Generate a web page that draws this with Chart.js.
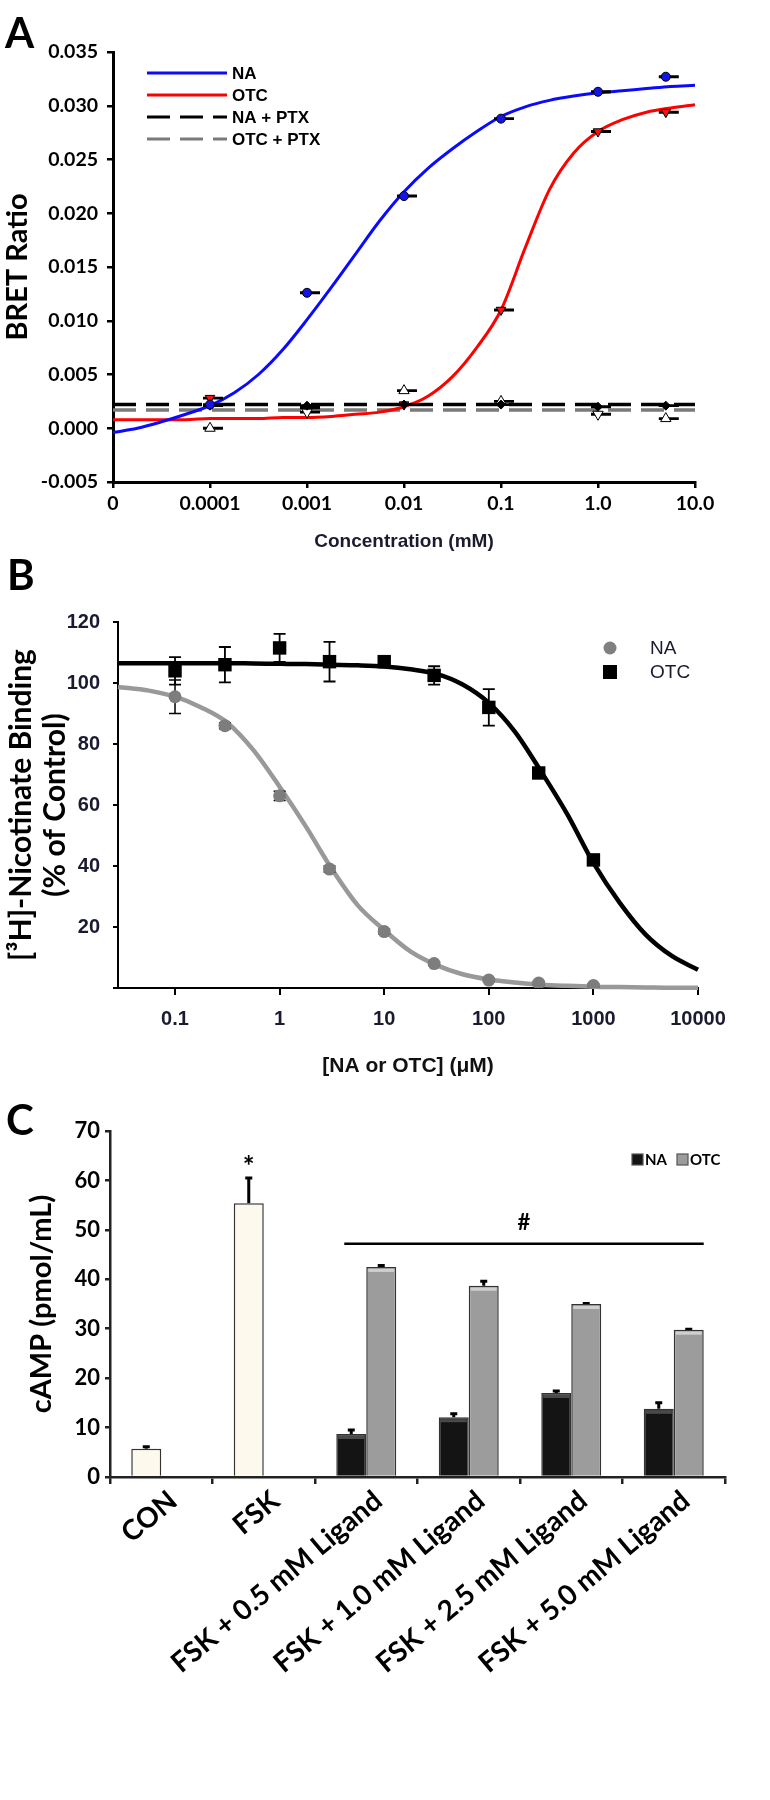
<!DOCTYPE html>
<html>
<head>
<meta charset="utf-8">
<script src="https://cdn.jsdelivr.net/npm/chart.js@4.4.0/dist/chart.umd.min.js"></script>
<style>
  body { margin: 0; background: #fff; }
  #page { position: relative; width: 770px; height: 1800px; }
  .panel { position: absolute; left: 0; }
  .tag { position: absolute; font: bold 42px Lato, sans-serif; line-height: 42px; color: #000; }
</style>
</head>
<body>
<div id="page">
  <canvas id="chartA" class="panel" width="770" height="560" style="top:0"></canvas>
  <canvas id="chartB" class="panel" width="770" height="530" style="top:560px"></canvas>
  <canvas id="chartC" class="panel" width="770" height="710" style="top:1090px"></canvas>
  <div class="tag" style="left:5px;top:11px">A</div>
  <div class="tag" style="left:7px;top:553px">B</div>
  <div class="tag" style="left:6px;top:1098px">C</div>
</div>
<script>
Chart.defaults.font.family = 'Lato, sans-serif';
Chart.defaults.color = '#000';

// ---- panel A : BRET ratio ----
const xTickValsA = [1e-5, 1e-4, 1e-3, 1e-2, 0.1, 1, 10];
const xTickLabelsA = ['0', '0.0001', '0.001', '0.01', '0.1', '1.0', '10.0'];
const concA = [0.0001, 0.001, 0.01, 0.1, 1.0, 5.0];
const naBret = [0.0022, 0.0126, 0.0216, 0.0288, 0.0313, 0.0327];
const otcBret = [0.0028, 0.0019, 0.0022, 0.0110, 0.0276, 0.0294];
const naPtxBret = [0.0021, 0.0021, 0.0022, 0.0022, 0.0020, 0.0021];
const otcPtxBret = [0.0000, 0.0015, 0.0035, 0.0025, 0.0013, 0.0009];
const bretErr = [0.00004, 0.00004, 0.00004, 0.00004, 0.00004, 0.00004];
// fitted curves
const curveConcA = [1e-5, 1.78e-5, 3.16e-5, 5.62e-5, 1e-4, 1.78e-4, 3.16e-4, 5.62e-4, 1e-3, 1.78e-3, 3.16e-3, 5.62e-3,
  1e-2, 1.78e-2, 3.16e-2, 5.62e-2, 0.1, 0.178, 0.316, 0.562, 1, 1.78, 3.16, 5.62, 10];
const naFitA = [-0.0004, 0.0000, 0.0006, 0.0013, 0.0021, 0.0033, 0.0050, 0.0073, 0.0101, 0.0131, 0.0162, 0.0193,
  0.0220, 0.0242, 0.0260, 0.0276, 0.0290, 0.0299, 0.0305, 0.0309, 0.0312, 0.0314, 0.0316, 0.0318, 0.0319];
const otcFitA = [0.0008, 0.0008, 0.0008, 0.0008, 0.0009, 0.0009, 0.0009, 0.0010, 0.0010, 0.0011, 0.0013, 0.0015,
  0.0020, 0.0030, 0.0048, 0.0075, 0.0110, 0.0168, 0.0222, 0.0256, 0.0276, 0.0287, 0.0294, 0.0298, 0.0301];
const ptxConcA = [1e-5, 10];
const naPtxFit = [0.0022, 0.0022];
const otcPtxFit = [0.0017, 0.0017];

// ---- panel B : [3H]-nicotinate binding ----
const xTickValsB = [0.1, 1, 10, 100, 1000, 10000];
const xTickLabelsB = ['0.1', '1', '10', '100', '1000', '10000'];
const concB = [0.1, 0.3, 1, 3, 10, 30, 100, 300, 1000];
const naBind = [95.5, 86, 63, 39, 18.5, 8, 2.6, 1.6, 0.8];
const naBindErr = [5.5, 1, 1.5, 1, 0.8, 0.6, 0.5, 0.5, 0.5];
const otcBind = [104, 106, 111.5, 107, 107, 102.5, 92, 70.5, 42];
const otcBindErr = [4.5, 5.8, 4.6, 6.5, 1.5, 3, 6, 1.5, 1.5];
const curveConcB = [0.0285, 0.0562, 0.1, 0.178, 0.316, 0.562, 1, 1.78, 3.16, 5.62, 10, 17.8, 31.6, 56.2,
  100, 178, 316, 562, 1000, 1780, 3160, 5620, 10000];
const naFitB = [98.7, 97.5, 95.5, 92, 87, 78, 66, 53, 39, 27, 19, 12, 7.5, 4.5,
  2.8, 1.8, 1.1, 0.7, 0.4, 0.3, 0.2, 0.1, 0.1];
const otcFitB = [106.5, 106.5, 106.5, 106.5, 106.5, 106.4, 106.3, 106.2, 106, 105.8, 105.4, 104.5, 103, 99.5,
  93.5, 84, 71, 57, 41, 28, 17.5, 10.5, 6];

// ---- panel C : cAMP ----
const groupsC = ['CON', 'FSK', 'FSK + 0.5 mM Ligand', 'FSK + 1.0 mM Ligand', 'FSK + 2.5 mM Ligand', 'FSK + 5.0 mM Ligand'];
const controlCamp = [5.7, 55.4, null, null, null, null];
const controlCampErr = [0.4, 5.1, null, null, null, null];
const naCamp = [null, null, 8.7, 12.1, 17.0, 13.8];
const naCampErr = [null, null, 0.8, 0.7, 0.4, 1.2];
const otcCamp = [null, null, 42.5, 38.7, 35.0, 29.8];
const otcCampErr = [null, null, 0.3, 0.9, 0.1, 0.1];
const sigLineValue = 47.2, hashValue = 51.4, starValue = 63.8;

const xy = (xs, ys) => xs.map((x, i) => ({ x: x, y: ys[i] }));

// vertical error bars, drawn under each dataset
const errorBars = {
  id: 'errorBars',
  beforeDatasetDraw(chart, args) {
    const ds = chart.data.datasets[args.index];
    if (!ds.errors) return;
    const yScale = chart.scales[args.meta.yAxisID];
    const ctx = chart.ctx;
    ctx.save();
    ctx.strokeStyle = '#000';
    ctx.lineWidth = ds.errWidth || 1.5;
    args.meta.data.forEach((el, i) => {
      const raw = ds.data[i];
      const v = raw !== null && typeof raw === 'object' ? raw.y : raw;
      const e = ds.errors[i];
      if (v == null || e == null) return;
      const yTop = yScale.getPixelForValue(v + e);
      const yBot = ds.errUpOnly ? el.y : yScale.getPixelForValue(v - e);
      const cx = el.x + (ds.errShift || 0);
      const h = ds.errCap / 2;
      ctx.beginPath();
      ctx.moveTo(el.x, yTop); ctx.lineTo(el.x, yBot);
      ctx.moveTo(cx - h, yTop); ctx.lineTo(cx + h, yTop);
      if (!ds.errUpOnly) { ctx.moveTo(cx - h, yBot); ctx.lineTo(cx + h, yBot); }
      ctx.stroke();
    });
    ctx.restore();
  }
};

const legendA = {
  id: 'legendA',
  afterDraw(chart) {
    const ctx = chart.ctx;
    chart.data.datasets.filter(d => d.inLegend).forEach((d, i) => {
      const y = 73 + i * 22;
      ctx.save();
      ctx.strokeStyle = d.borderColor;
      ctx.lineWidth = 3;
      ctx.setLineDash(d.borderDash || []);
      ctx.beginPath(); ctx.moveTo(147, y); ctx.lineTo(227, y); ctx.stroke();
      ctx.setLineDash([]);
      ctx.fillStyle = '#000';
      ctx.font = 'bold 17px "Liberation Sans", Arial, sans-serif';
      ctx.textBaseline = 'middle';
      ctx.fillText(d.label, 232, y + 1);
      ctx.restore();
    });
  }
};

const pointsA = (label, ys, style, color, radius, rot) => ({
  label: label, data: xy(concA, ys), showLine: false,
  pointStyle: style, pointRadius: radius, pointRotation: rot || 0,
  pointBackgroundColor: color, pointBorderColor: '#000', pointBorderWidth: 1,
  errors: bretErr, errCap: 20, errShift: 3, errWidth: 2
});
const fitA = (label, xs, ys, color, dash, width) => ({
  label: label, inLegend: true, data: xy(xs, ys), borderColor: color, borderWidth: width,
  borderDash: dash, pointRadius: 0, cubicInterpolationMode: 'monotone', fill: false, clip: 6
});

new Chart(document.getElementById('chartA'), {
  type: 'line',
  data: {
    datasets: [
      pointsA('NA', naBret, 'circle', '#1414e6', 4.5),
      pointsA('NA + PTX', naPtxBret, 'rectRot', '#000', 4.5),
      pointsA('OTC + PTX', otcPtxBret, 'triangle', '#fff', 6, [0, 180, 0, 0, 180, 0]),
      pointsA('OTC', otcBret, 'triangle', '#ff1010', 5.5, 180),
      fitA('NA', curveConcA, naFitA, '#0a0aff', [], 3),
      fitA('OTC', curveConcA, otcFitA, '#ff0000', [], 3),
      fitA('NA + PTX', ptxConcA, naPtxFit, '#000', [23, 10], 3.5),
      fitA('OTC + PTX', ptxConcA, otcPtxFit, '#7a7a7a', [23, 10], 3.5)
    ]
  },
  options: {
    responsive: false,
    animation: false,
    layout: { padding: { top: 52, right: 75, left: 0, bottom: 0 } },
    plugins: { legend: { display: false }, tooltip: { enabled: false } },
    scales: {
      x: {
        type: 'logarithmic', min: 1e-5, max: 10,
        afterBuildTicks: s => { s.ticks = xTickValsA.map(v => ({ value: v })); },
        afterFit: s => { s.height = 78; },
        ticks: { callback: (v, i) => xTickLabelsA[i], font: { size: 19.5, weight: 'bold' }, color: '#000', padding: 4, maxRotation: 0, autoSkip: false },
        grid: { drawOnChartArea: false, tickLength: 6, color: '#000', lineWidth: 2.5 },
        border: { color: '#000', width: 3 },
        title: { display: true, text: 'Concentration (mM)', color: '#1b1b2f', padding: { top: 0, bottom: 7 },
          font: { family: '"Liberation Sans", Arial, sans-serif', size: 19, weight: 'bold' } }
      },
      y: {
        min: -0.005, max: 0.035,
        afterFit: s => { s.width = 113; },
        ticks: { stepSize: 0.005, callback: v => (Math.abs(v) < 1e-9 ? 0 : v).toFixed(3), font: { size: 19.5, weight: 'bold' }, color: '#000', padding: 9 },
        grid: { drawOnChartArea: false, tickLength: 6, color: '#000', lineWidth: 2.5 },
        border: { color: '#000', width: 3 },
        title: { display: true, text: 'BRET Ratio', color: '#000', padding: { top: 0, bottom: 0 }, font: { size: 29, weight: 'bold' } }
      }
    }
  },
  plugins: [errorBars, legendA]
});

const legendB = {
  id: 'legendB',
  afterDraw(chart) {
    const ctx = chart.ctx;
    ctx.save();
    ctx.fillStyle = '#808080';
    ctx.beginPath(); ctx.arc(610, 88, 6.5, 0, Math.PI * 2); ctx.fill();
    ctx.fillStyle = '#000';
    ctx.fillRect(603, 105, 14, 14);
    ctx.fillStyle = '#1a1a30';
    ctx.font = '19px "Liberation Sans", Arial, sans-serif';
    ctx.textBaseline = 'middle';
    ctx.fillText(chart.data.datasets[0].label, 650, 89);
    ctx.fillText(chart.data.datasets[1].label, 650, 113);
    ctx.restore();
  }
};

const tickFontB = { family: '"Liberation Sans", Arial, sans-serif', size: 20, weight: 'bold' };
new Chart(document.getElementById('chartB'), {
  type: 'line',
  data: {
    datasets: [
      { label: 'NA', data: xy(concB, naBind), showLine: false, pointStyle: 'circle', pointRadius: 6.5,
        pointBackgroundColor: '#7d7d7d', pointBorderWidth: 0, errors: naBindErr, errCap: 12, errWidth: 1.5 },
      { label: 'OTC', data: xy(concB, otcBind), showLine: false, pointStyle: 'rect', pointRadius: 9.5,
        pointBackgroundColor: '#000', pointBorderWidth: 0, errors: otcBindErr, errCap: 12, errWidth: 1.8 },
      { label: 'NA fit', data: xy(curveConcB, naFitB), borderColor: '#999', borderWidth: 4.5, pointRadius: 0,
        cubicInterpolationMode: 'monotone', clip: 8 },
      { label: 'OTC fit', data: xy(curveConcB, otcFitB), borderColor: '#000', borderWidth: 4.5, pointRadius: 0,
        cubicInterpolationMode: 'monotone', clip: 8 }
    ]
  },
  options: {
    responsive: false,
    animation: false,
    layout: { padding: { top: 62, right: 72, left: 0, bottom: 0 } },
    plugins: { legend: { display: false }, tooltip: { enabled: false } },
    scales: {
      x: {
        type: 'logarithmic', min: 0.0285, max: 10000,
        afterBuildTicks: s => { s.ticks = xTickValsB.map(v => ({ value: v })); },
        afterFit: s => { s.height = 102; },
        ticks: { callback: (v, i) => xTickLabelsB[i], font: tickFontB, color: '#1a1a30', padding: 12, maxRotation: 0, autoSkip: false },
        grid: { drawOnChartArea: false, tickLength: 7, color: '#000', lineWidth: 2 },
        border: { color: '#000', width: 2 },
        title: { display: true, text: '[NA or OTC] (\u03bcM)', color: '#111', padding: { top: 0, bottom: 11 },
          font: { family: '"Liberation Sans", Arial, sans-serif', size: 21, weight: 'bold' } }
      },
      y: {
        min: 0, max: 120,
        afterFit: s => { s.width = 118; },
        ticks: { stepSize: 20, callback: v => (v === 0 ? '' : v), font: tickFontB, color: '#1a1a30', padding: 13 },
        grid: { drawOnChartArea: false, tickLength: 5, color: '#000', lineWidth: 2 },
        border: { color: '#000', width: 2 },
        title: { display: true, text: ['[\u00b3H]-Nicotinate Binding', '(% of Control)'], color: '#000',
          padding: { top: 4, bottom: 0 }, font: { size: 30, weight: 'bold', lineHeight: 1.13 } }
      }
    }
  },
  plugins: [errorBars, legendB]
});

const barShine = {
  id: 'barShine',
  afterDatasetDraw(chart, args) {
    const ds = chart.data.datasets[args.index];
    if (!ds.shine) return;
    const ctx = chart.ctx;
    ctx.save();
    ctx.fillStyle = ds.shine;
    args.meta.data.forEach((el, i) => {
      if (ds.data[i] == null) return;
      ctx.fillRect(el.x - el.width / 2 + 2, el.y + 2, el.width - 4, 3);
    });
    ctx.restore();
  }
};

const marksC = {
  id: 'marksC',
  afterDraw(chart) {
    const ctx = chart.ctx;
    const y = chart.scales.y;
    const naMeta = chart.getDatasetMeta(0), conMeta = chart.getDatasetMeta(1), otcMeta = chart.getDatasetMeta(2);
    const a = naMeta.data[2], b = otcMeta.data[5];
    const x0 = a.x - a.width / 2 + 8, x1 = b.x + b.width / 2;
    ctx.save();
    ctx.strokeStyle = '#000';
    ctx.lineWidth = 2.5;
    ctx.beginPath();
    ctx.moveTo(x0, y.getPixelForValue(sigLineValue));
    ctx.lineTo(x1, y.getPixelForValue(sigLineValue));
    ctx.stroke();
    ctx.fillStyle = '#000';
    ctx.font = 'bold 22px Lato, sans-serif';
    ctx.textAlign = 'center';
    ctx.textBaseline = 'middle';
    ctx.fillText('#', (x0 + x1) / 2, y.getPixelForValue(hashValue));
    ctx.font = 'bold 28px Lato, sans-serif';
    ctx.fillText('*', conMeta.data[1].x, y.getPixelForValue(starValue) + 5);
    // legend
    ctx.font = 'bold 15px Lato, sans-serif';
    ctx.textAlign = 'left';
    ctx.lineWidth = 1.2;
    ctx.strokeStyle = '#555';
    ctx.fillStyle = '#141414';
    ctx.fillRect(632, 64, 11, 11); ctx.strokeRect(632, 64, 11, 11);
    ctx.fillStyle = '#9c9c9c';
    ctx.fillRect(677, 64, 11, 11); ctx.strokeRect(677, 64, 11, 11);
    ctx.fillStyle = '#000';
    ctx.fillText(naMeta.label || 'NA', 645, 70);
    ctx.fillText(otcMeta.label || 'OTC', 690, 70);
    ctx.restore();
  }
};

new Chart(document.getElementById('chartC'), {
  type: 'bar',
  data: {
    labels: groupsC,
    datasets: [
      { label: 'NA', data: naCamp, stack: 'a', backgroundColor: '#141414', borderColor: '#333', borderWidth: 1.5,
        errors: naCampErr, errUpOnly: true, errCap: 7, errWidth: 3, shine: '#4a4a4a' },
      { label: 'Control', data: controlCamp, stack: 'a', backgroundColor: '#fdf9ec', borderColor: '#333', borderWidth: 1.5,
        errors: controlCampErr, errUpOnly: true, errCap: 7, errWidth: 3 },
      { label: 'OTC', data: otcCamp, stack: 'b', backgroundColor: '#9c9c9c', borderColor: '#333', borderWidth: 1.5,
        errors: otcCampErr, errUpOnly: true, errCap: 7, errWidth: 3, shine: '#cfcfcf' }
    ]
  },
  options: {
    responsive: false,
    animation: false,
    barPercentage: 1,
    categoryPercentage: 0.585,
    layout: { padding: { top: 41, right: 45, left: 0, bottom: 0 } },
    plugins: { legend: { display: false }, tooltip: { enabled: false } },
    scales: {
      x: {
        stacked: true,
        afterFit: s => { s.height = 323; },
        ticks: { font: { size: 28, weight: 'bold' }, color: '#000', minRotation: 40, maxRotation: 40, autoSkip: false, padding: 0, labelOffset: 12 },
        grid: { drawOnChartArea: false, tickLength: 7, color: '#222', lineWidth: 2.5 },
        border: { color: '#222', width: 2.5 }
      },
      y: {
        stacked: true, min: 0, max: 70,
        afterFit: s => { s.width = 110; },
        ticks: { stepSize: 10, font: { size: 22, weight: 'bold' }, color: '#000', padding: 5 },
        grid: { drawOnChartArea: false, tickLength: 5, color: '#222', lineWidth: 2.5 },
        border: { color: '#222', width: 2.5 },
        title: { display: true, text: 'cAMP (pmol/mL)', color: '#000', padding: { top: 24, bottom: 0 }, font: { size: 29, weight: 'bold' } }
      }
    }
  },
  plugins: [errorBars, barShine, marksC]
});
</script>
</body>
</html>
